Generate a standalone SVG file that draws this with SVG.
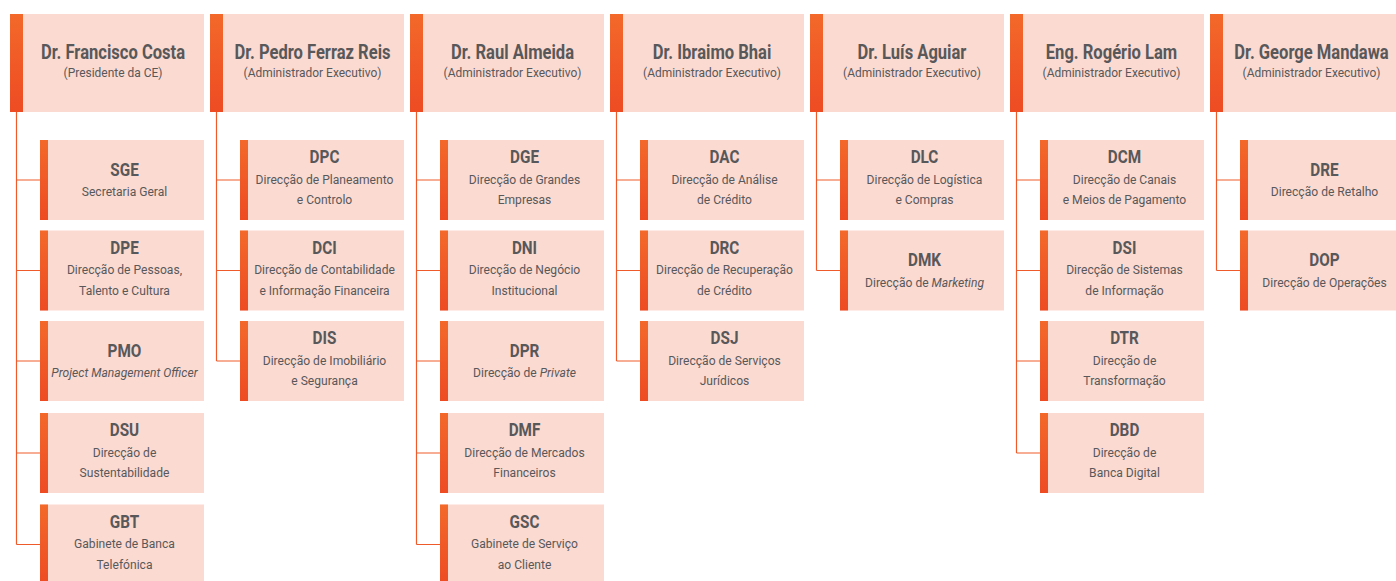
<svg xmlns="http://www.w3.org/2000/svg" width="1396" height="581" viewBox="0 0 1396 581">
<defs>
<linearGradient id="bar" x1="0" y1="0" x2="0" y2="1">
<stop offset="0" stop-color="#F3692A"/>
<stop offset="1" stop-color="#EE4B23"/>
</linearGradient>
<style>
.box{fill:#FBDAD1}
.bar{fill:url(#bar)}
text{font-family:Roboto,"Liberation Sans",sans-serif;fill:#58585A;text-anchor:middle;transform-box:fill-box;transform-origin:center}
.hn{font-size:19.5px;font-weight:bold;transform:scaleX(.85)}
.hs{font-size:13px;transform:scaleX(.92)}
.ct{font-size:18px;font-weight:bold;transform:scaleX(.85)}
.cs{font-size:13px;transform:scaleX(.93)}
.i{font-style:italic}
.ln{fill:none;stroke:#EF5A2B;stroke-width:1.2}
</style>
</defs>
<rect width="1396" height="581" fill="#FFFFFF"/>
<g id="connectors">
<path class="ln" d="M16.5 112V544.5M16.5 180H40M16.5 270.5H40M16.5 361H40M16.5 453H40M16.5 544.5H40"/>
<path class="ln" d="M216.5 112V361M216.5 180H240M216.5 270.5H240M216.5 361H240"/>
<path class="ln" d="M416.5 112V544.5M416.5 180H440M416.5 270.5H440M416.5 361H440M416.5 453H440M416.5 544.5H440"/>
<path class="ln" d="M616.5 112V361M616.5 180H640M616.5 270.5H640M616.5 361H640"/>
<path class="ln" d="M816.5 112V270.5M816.5 180H840M816.5 270.5H840"/>
<path class="ln" d="M1016.5 112V453M1016.5 180H1040M1016.5 270.5H1040M1016.5 361H1040M1016.5 453H1040"/>
<path class="ln" d="M1216.5 112V270.5M1216.5 180H1240M1216.5 270.5H1240"/>
</g>
<g id="h0"><rect class="box" x="10" y="14" width="194" height="98"/><rect class="bar" x="10" y="14" width="13" height="98"/><text class="hn" x="113" y="59">Dr. Francisco Costa</text><text class="hs" x="113" y="77.5">(Presidente da CE)</text></g>
<g id="h1"><rect class="box" x="210" y="14" width="194" height="98"/><rect class="bar" x="210" y="14" width="13" height="98"/><text class="hn" x="312.5" y="59">Dr. Pedro Ferraz Reis</text><text class="hs" x="312.5" y="77.5">(Administrador Executivo)</text></g>
<g id="h2"><rect class="box" x="410" y="14" width="194" height="98"/><rect class="bar" x="410" y="14" width="13" height="98"/><text class="hn" x="512.5" y="59">Dr. Raul Almeida</text><text class="hs" x="512.5" y="77.5">(Administrador Executivo)</text></g>
<g id="h3"><rect class="box" x="610" y="14" width="194" height="98"/><rect class="bar" x="610" y="14" width="13" height="98"/><text class="hn" x="712" y="59">Dr. Ibraimo Bhai</text><text class="hs" x="712" y="77.5">(Administrador Executivo)</text></g>
<g id="h4"><rect class="box" x="810" y="14" width="194" height="98"/><rect class="bar" x="810" y="14" width="13" height="98"/><text class="hn" x="912" y="59">Dr. Luís Aguiar</text><text class="hs" x="912" y="77.5">(Administrador Executivo)</text></g>
<g id="h5"><rect class="box" x="1010" y="14" width="194" height="98"/><rect class="bar" x="1010" y="14" width="13" height="98"/><text class="hn" x="1111.5" y="59">Eng. Rogério Lam</text><text class="hs" x="1111.5" y="77.5">(Administrador Executivo)</text></g>
<g id="h6"><rect class="box" x="1210" y="14" width="194" height="98"/><rect class="bar" x="1210" y="14" width="13" height="98"/><text class="hn" x="1311.5" y="59">Dr. George Mandawa</text><text class="hs" x="1311.5" y="77.5">(Administrador Executivo)</text></g>

<g id="SGE"><rect class="box" x="40" y="140" width="164" height="80"/><rect class="bar" x="40" y="140" width="8" height="80"/><text class="ct" x="124.5" y="176">SGE</text><text class="cs" x="124.5" y="196.5">Secretaria Geral</text></g>
<g id="DPE"><rect class="box" x="40" y="230.5" width="164" height="80"/><rect class="bar" x="40" y="230.5" width="8" height="80"/><text class="ct" x="124.5" y="254">DPE</text><text class="cs" x="124.5" y="274.5">Direcção de Pessoas,</text><text class="cs" x="124.5" y="295">Talento e Cultura</text></g>
<g id="PMO"><rect class="box" x="40" y="321" width="164" height="80"/><rect class="bar" x="40" y="321" width="8" height="80"/><text class="ct" x="124.5" y="357">PMO</text><text class="cs i" x="124.5" y="377.5">Project Management Officer</text></g>
<g id="DSU"><rect class="box" x="40" y="413" width="164" height="80"/><rect class="bar" x="40" y="413" width="8" height="80"/><text class="ct" x="124.5" y="436.5">DSU</text><text class="cs" x="124.5" y="457">Direcção de</text><text class="cs" x="124.5" y="477.5">Sustentabilidade</text></g>
<g id="GBT"><rect class="box" x="40" y="504.5" width="164" height="80"/><rect class="bar" x="40" y="504.5" width="8" height="80"/><text class="ct" x="124.5" y="528">GBT</text><text class="cs" x="124.5" y="548.5">Gabinete de Banca</text><text class="cs" x="124.5" y="569">Telefónica</text></g>

<g id="DPC"><rect class="box" x="240" y="140" width="164" height="80"/><rect class="bar" x="240" y="140" width="8" height="80"/><text class="ct" x="324.5" y="163.5">DPC</text><text class="cs" x="324.5" y="184">Direcção de Planeamento</text><text class="cs" x="324.5" y="204.5">e Controlo</text></g>
<g id="DCI"><rect class="box" x="240" y="230.5" width="164" height="80"/><rect class="bar" x="240" y="230.5" width="8" height="80"/><text class="ct" x="324.5" y="254">DCI</text><text class="cs" x="324.5" y="274.5">Direcção de Contabilidade</text><text class="cs" x="324.5" y="295">e Informação Financeira</text></g>
<g id="DIS"><rect class="box" x="240" y="321" width="164" height="80"/><rect class="bar" x="240" y="321" width="8" height="80"/><text class="ct" x="324.5" y="344.5">DIS</text><text class="cs" x="324.5" y="365">Direcção de Imobiliário</text><text class="cs" x="324.5" y="385.5">e Segurança</text></g>

<g id="DGE"><rect class="box" x="440" y="140" width="164" height="80"/><rect class="bar" x="440" y="140" width="8" height="80"/><text class="ct" x="524.5" y="163.5">DGE</text><text class="cs" x="524.5" y="184">Direcção de Grandes</text><text class="cs" x="524.5" y="204.5">Empresas</text></g>
<g id="DNI"><rect class="box" x="440" y="230.5" width="164" height="80"/><rect class="bar" x="440" y="230.5" width="8" height="80"/><text class="ct" x="524.5" y="254">DNI</text><text class="cs" x="524.5" y="274.5">Direcção de Negócio</text><text class="cs" x="524.5" y="295">Institucional</text></g>
<g id="DPR"><rect class="box" x="440" y="321" width="164" height="80"/><rect class="bar" x="440" y="321" width="8" height="80"/><text class="ct" x="524.5" y="357">DPR</text><text class="cs" x="524.5" y="377.5">Direcção de <tspan class="i">Private</tspan></text></g>
<g id="DMF"><rect class="box" x="440" y="413" width="164" height="80"/><rect class="bar" x="440" y="413" width="8" height="80"/><text class="ct" x="524.5" y="436.5">DMF</text><text class="cs" x="524.5" y="457">Direcção de Mercados</text><text class="cs" x="524.5" y="477.5">Financeiros</text></g>
<g id="GSC"><rect class="box" x="440" y="504.5" width="164" height="80"/><rect class="bar" x="440" y="504.5" width="8" height="80"/><text class="ct" x="524.5" y="528">GSC</text><text class="cs" x="524.5" y="548.5">Gabinete de Serviço</text><text class="cs" x="524.5" y="569">ao Cliente</text></g>

<g id="DAC"><rect class="box" x="640" y="140" width="164" height="80"/><rect class="bar" x="640" y="140" width="8" height="80"/><text class="ct" x="724.5" y="163.5">DAC</text><text class="cs" x="724.5" y="184">Direcção de Análise</text><text class="cs" x="724.5" y="204.5">de Crédito</text></g>
<g id="DRC"><rect class="box" x="640" y="230.5" width="164" height="80"/><rect class="bar" x="640" y="230.5" width="8" height="80"/><text class="ct" x="724.5" y="254">DRC</text><text class="cs" x="724.5" y="274.5">Direcção de Recuperação</text><text class="cs" x="724.5" y="295">de Crédito</text></g>
<g id="DSJ"><rect class="box" x="640" y="321" width="164" height="80"/><rect class="bar" x="640" y="321" width="8" height="80"/><text class="ct" x="724.5" y="344.5">DSJ</text><text class="cs" x="724.5" y="365">Direcção de Serviços</text><text class="cs" x="724.5" y="385.5">Jurídicos</text></g>

<g id="DLC"><rect class="box" x="840" y="140" width="164" height="80"/><rect class="bar" x="840" y="140" width="8" height="80"/><text class="ct" x="924.5" y="163.5">DLC</text><text class="cs" x="924.5" y="184">Direcção de Logística</text><text class="cs" x="924.5" y="204.5">e Compras</text></g>
<g id="DMK"><rect class="box" x="840" y="230.5" width="164" height="80"/><rect class="bar" x="840" y="230.5" width="8" height="80"/><text class="ct" x="924.5" y="266.5">DMK</text><text class="cs" x="924.5" y="287">Direcção de <tspan class="i">Marketing</tspan></text></g>

<g id="DCM"><rect class="box" x="1040" y="140" width="164" height="80"/><rect class="bar" x="1040" y="140" width="8" height="80"/><text class="ct" x="1124.5" y="163.5">DCM</text><text class="cs" x="1124.5" y="184">Direcção de Canais</text><text class="cs" x="1124.5" y="204.5">e Meios de Pagamento</text></g>
<g id="DSI"><rect class="box" x="1040" y="230.5" width="164" height="80"/><rect class="bar" x="1040" y="230.5" width="8" height="80"/><text class="ct" x="1124.5" y="254">DSI</text><text class="cs" x="1124.5" y="274.5">Direcção de Sistemas</text><text class="cs" x="1124.5" y="295">de Informação</text></g>
<g id="DTR"><rect class="box" x="1040" y="321" width="164" height="80"/><rect class="bar" x="1040" y="321" width="8" height="80"/><text class="ct" x="1124.5" y="344.5">DTR</text><text class="cs" x="1124.5" y="365">Direcção de</text><text class="cs" x="1124.5" y="385.5">Transformação</text></g>
<g id="DBD"><rect class="box" x="1040" y="413" width="164" height="80"/><rect class="bar" x="1040" y="413" width="8" height="80"/><text class="ct" x="1124.5" y="436.5">DBD</text><text class="cs" x="1124.5" y="457">Direcção de</text><text class="cs" x="1124.5" y="477.5">Banca Digital</text></g>

<g id="DRE"><rect class="box" x="1240" y="140" width="164" height="80"/><rect class="bar" x="1240" y="140" width="8" height="80"/><text class="ct" x="1324.5" y="176">DRE</text><text class="cs" x="1324.5" y="196.5">Direcção de Retalho</text></g>
<g id="DOP"><rect class="box" x="1240" y="230.5" width="164" height="80"/><rect class="bar" x="1240" y="230.5" width="8" height="80"/><text class="ct" x="1324.5" y="266.5">DOP</text><text class="cs" x="1324.5" y="287">Direcção de Operações</text></g>
</svg>
